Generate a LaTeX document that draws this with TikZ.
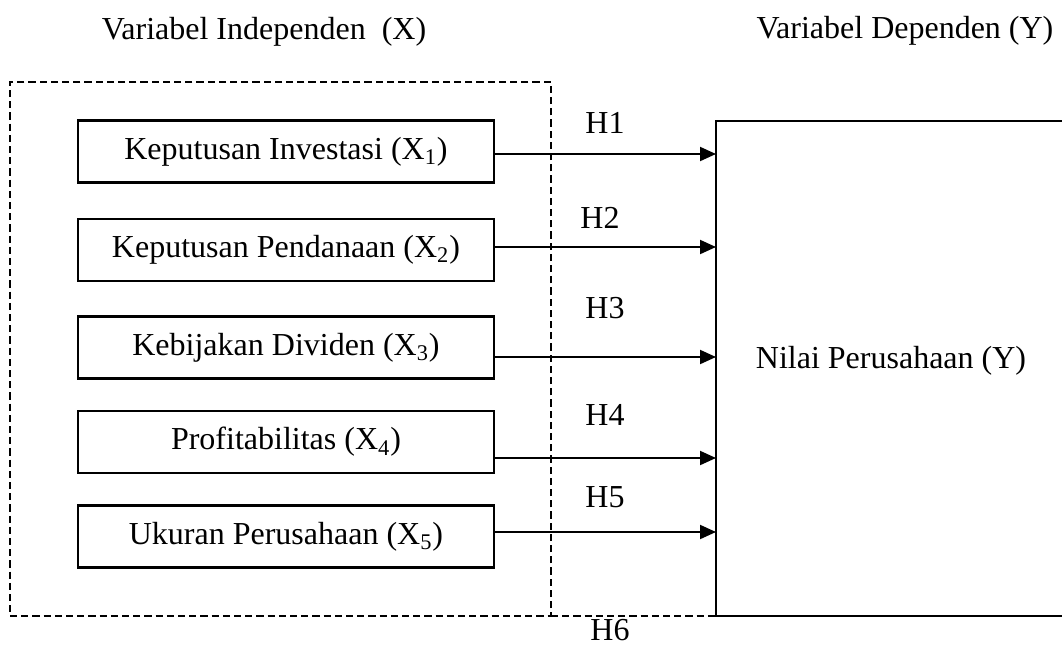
\documentclass[tikz,border=0pt]{standalone}
\usepackage{fontspec}
\setmainfont{Liberation Serif}
\usetikzlibrary{arrows.meta}
\begin{document}
\begin{tikzpicture}[x=0.5pt,y=-0.5pt,
  every node/.style={font=\fontsize{16}{19}\selectfont, inner sep=0pt, outer sep=0pt},
  varbox/.style={draw, line width=1.1pt, minimum width=208pt, minimum height=31pt},
  bigbox/.style={draw, line width=1.1pt},
  arr/.style={line width=1pt, -{Triangle[length=8pt,width=7pt]}},
  dashline/.style={line width=1.1pt, dash pattern=on 3.6pt off 2pt},
  lbl/.style={anchor=base}]
\useasboundingbox (0,0) rectangle (1062,644);
\clip (0,0) rectangle (1062,644);
% titles
\node[lbl] (t1) at (264,39) {Variabel Independen\ \ (X)};
\node[lbl] (t2) at (905,38) {Variabel Dependen (Y)};
% dashed group box
\node[dashline, draw, minimum width=270.5pt, minimum height=267pt] (D) at (280.5,349) {};
% dependent box
\node[bigbox, minimum width=175pt, minimum height=247.5pt] (Y) at (891,368.5) {};
\node[lbl] (ytext) at (891,368) {Nilai Perusahaan (Y)};
% independent boxes
\node[varbox] (b1) at (286,151.5) {Keputusan Investasi (X\textsubscript{1})};
\node[varbox] (b2) at (286,250) {Keputusan Pendanaan (X\textsubscript{2})};
\node[varbox] (b3) at (286,347.5) {Kebijakan Dividen (X\textsubscript{3})};
\node[varbox] (b4) at (286,442) {Profitabilitas (X\textsubscript{4})};
\node[varbox] (b5) at (286,536.5) {Ukuran Perusahaan (X\textsubscript{5})};
% arrow start points
\coordinate (s1) at ([yshift=-1.25pt]b1.east);
\coordinate (s2) at ([yshift=1.5pt]b2.east);
\coordinate (s3) at ([yshift=-4.75pt]b3.east);
\coordinate (s4) at ([yshift=-8pt]b4.east);
\coordinate (s5) at ([yshift=2.25pt]b5.east);
\draw[arr] (s1) -- (s1 -| Y.west);
\draw[arr] (s2) -- (s2 -| Y.west);
\draw[arr] (s3) -- (s3 -| Y.west);
\draw[arr] (s4) -- (s4 -| Y.west);
\draw[arr] (s5) -- (s5 -| Y.west);
\draw[dashline] (D.south east) -- (Y.south west);
% hypothesis labels
\node[lbl] (h1) at (605,133) {H1};
\node[lbl] (h2) at (600,228) {H2};
\node[lbl] (h3) at (605,318) {H3};
\node[lbl] (h4) at (605,425) {H4};
\node[lbl] (h5) at (605,507) {H5};
\node[lbl] (h6) at (610,640) {H6};
\end{tikzpicture}
\end{document}
